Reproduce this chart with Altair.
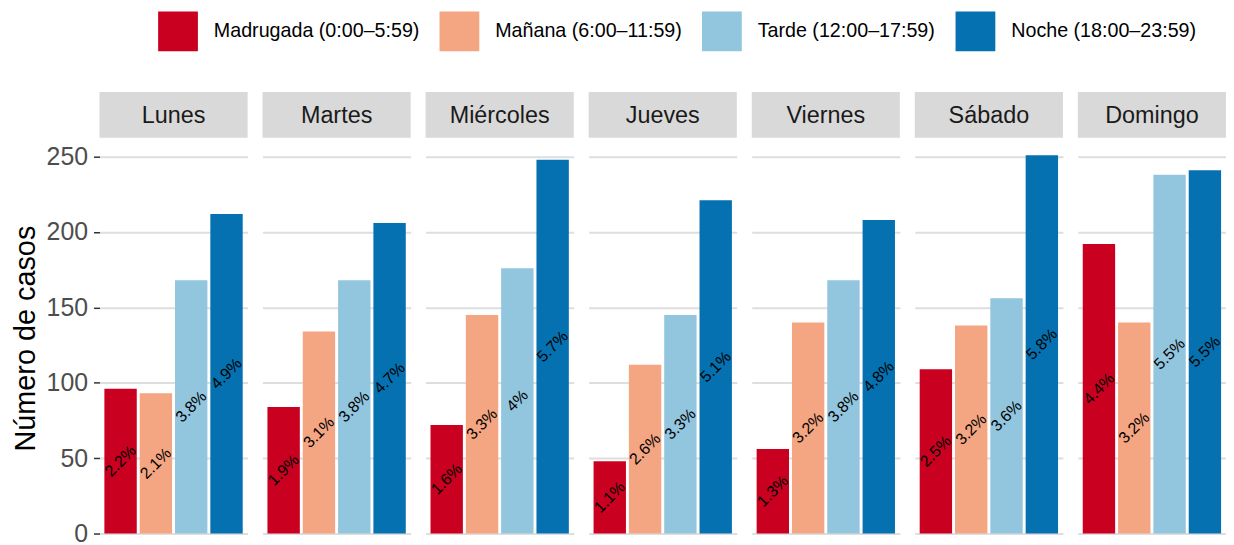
import altair as alt
import pandas as pd

days = ["Lunes", "Martes", "Miércoles", "Jueves", "Viernes", "Sábado", "Domingo"]
periods = ["Madrugada (0:00–5:59)", "Mañana (6:00–11:59)",
           "Tarde (12:00–17:59)", "Noche (18:00–23:59)"]
colors = ["#CA0020", "#F4A582", "#92C5DE", "#0571B0"]

madrugada = [96, 84, 72, 48, 56, 109, 192]
manana = [93, 134, 145, 112, 140, 138, 140]
tarde = [168, 168, 176, 145, 168, 156, 238]
noche = [212, 206, 248, 221, 208, 251, 241]

pct_madrugada = ["2.2%", "1.9%", "1.6%", "1.1%", "1.3%", "2.5%", "4.4%"]
pct_manana = ["2.1%", "3.1%", "3.3%", "2.6%", "3.2%", "3.2%", "3.2%"]
pct_tarde = ["3.8%", "3.8%", "4%", "3.3%", "3.8%", "3.6%", "5.5%"]
pct_noche = ["4.9%", "4.7%", "5.7%", "5.1%", "4.8%", "5.8%", "5.5%"]

y_ticks = [0, 50, 100, 150, 200, 250]

series = [madrugada, manana, tarde, noche]
pcts = [pct_madrugada, pct_manana, pct_tarde, pct_noche]
rows = []
for i, d in enumerate(days):
    for p, vals, pc in zip(periods, series, pcts):
        rows.append({"dia": d, "periodo": p, "casos": vals[i], "pct": pc[i]})
df = pd.DataFrame(rows)

FONT = "Liberation Sans"
W = 149
H = 403
STRIP = 46

yscale = alt.Scale(domain=[-3.3, 262.5], nice=False, zero=False)
xscale = alt.Scale(domain=periods, paddingInner=0.0833, paddingOuter=0.139)

color = alt.Color(
    "periodo:N",
    scale=alt.Scale(domain=periods, range=colors),
    legend=alt.Legend(
        title=None, orient="none", direction="horizontal",
        legendX=59, legendY=-127,
        symbolType="square", symbolSize=1600, symbolStrokeWidth=0,
        symbolOpacity=1, labelFontSize=19.8, labelFont=FONT, labelLimit=500,
        labelColor="#000000", labelOffset=16, columnPadding=20,
        padding=0,
    ),
)


def panel(i, d):
    sub = df[df["dia"] == d]
    if i == 0:
        axis = alt.Axis(values=y_ticks, grid=True, gridColor="#DEDEDE", gridWidth=2,
                        domain=False, ticks=True, tickSize=6, tickColor="#333333",
                        tickWidth=1.5, labelPadding=6, labelFontSize=25,
                        labelColor="#4D4D4D", labelFont=FONT,
                        title="Número de casos", titleFontSize=29,
                        titleFont=FONT, titleFontWeight="normal",
                        titleColor="#000000", titlePadding=5,
                        minExtent=54, maxExtent=54)
        y = alt.Y("casos:Q", scale=yscale, axis=axis)
    else:
        axis = alt.Axis(values=y_ticks, grid=True, gridColor="#DEDEDE", gridWidth=2,
                        domain=False, ticks=False, labels=False,
                        minExtent=0, maxExtent=0)
        y = alt.Y("casos:Q", scale=yscale, axis=axis, title=None)

    x = alt.X("periodo:N", sort=periods, scale=xscale, axis=None)

    bars = alt.Chart(sub).mark_bar().encode(x=x, y=y, color=color)
    labels = alt.Chart(sub).transform_calculate(
        mitad="datum.casos / 2"
    ).mark_text(angle=315, fontSize=16, font=FONT, color="#000000",
                align="center", baseline="middle").encode(
        x=alt.X("periodo:N", sort=periods, scale=xscale, axis=None),
        y=alt.Y("mitad:Q", scale=yscale),
        text="pct:N",
    )
    strip_df = pd.DataFrame({"dia": [d]})
    strip = alt.Chart(strip_df).mark_rect(color="#D9D9D9").encode(
        x=alt.value(0), x2=alt.value(W), y=alt.value(-STRIP), y2=alt.value(0)
    )
    strip_text = alt.Chart(strip_df).mark_text(
        fontSize=23.5, font=FONT, color="#1A1A1A", align="center", baseline="middle"
    ).encode(x=alt.value(W / 2), y=alt.value(-STRIP / 2 + 1), text="dia:N")

    return alt.layer(strip, strip_text, bars, labels).properties(width=W, height=H)


chart = (
    alt.hconcat(*[panel(i, d) for i, d in enumerate(days)], spacing=15)
    .properties(padding={"left": 4, "top": 2, "right": 0, "bottom": 0})
    .configure(font=FONT)
    .configure_view(stroke="transparent", strokeWidth=0)
)

chart.save("out.html", embed_options={"renderer": "svg", "actions": False})
